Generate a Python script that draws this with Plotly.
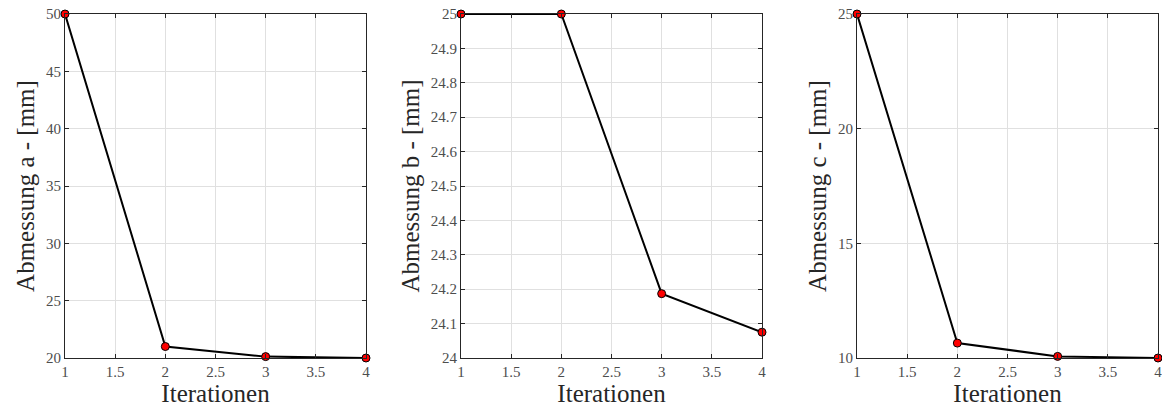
import plotly.graph_objects as go

# Iteration history of the three dimensions
iterations = [1, 2, 3, 4]
abmessung_a = [50.0, 21.0, 20.12, 20.0]
abmessung_b = [25.0, 25.0, 24.187, 24.075]
abmessung_c = [25.0, 10.65, 10.07, 10.0]

y_titles = ["Abmessung a - [mm]", "Abmessung b - [mm]", "Abmessung c - [mm]"]
y_ranges = [(20, 50), (24, 25), (10, 25)]
y_dticks = [5, 0.1, 5]
x_ticks = [1, 1.5, 2, 2.5, 3, 3.5, 4]
x_ticklabels = ["1", "1.5", "2", "2.5", "3", "3.5", "4"]

W, H = 1162, 409
x_domains_px = [(65, 366), (461, 762), (857, 1158)]
y_domain = [1 - 358 / H, 1 - 14 / H]

FONT = "Liberation Serif"

fig = go.Figure()
series = [abmessung_a, abmessung_b, abmessung_c]
for i, values in enumerate(series):
    idx = "" if i == 0 else str(i + 1)
    fig.add_trace(go.Scatter(
        x=iterations, y=values, mode="lines+markers",
        line=dict(color="black", width=2),
        marker=dict(color="#ff0000", size=8, line=dict(color="black", width=1)),
        xaxis="x" + idx, yaxis="y" + idx, showlegend=False, cliponaxis=False,
    ))
    ax_common = dict(
        showline=True, linecolor="#262626", linewidth=1, mirror="allticks",
        ticks="inside", ticklen=4, tickcolor="#262626",
        showgrid=True, gridcolor="#e0e0e0", gridwidth=1, zeroline=False,
        tickfont=dict(family=FONT, size=15, color="#4d4d4d"),
        automargin=False, ticklabeloverflow="allow",
    )
    fig.layout["xaxis" + idx] = dict(
        ax_common,
        domain=[x_domains_px[i][0] / W, x_domains_px[i][1] / W],
        anchor="y" + idx, range=[1, 4],
        tickvals=x_ticks, ticktext=x_ticklabels,
        title=dict(text="Iterationen", font=dict(family=FONT, size=25, color="#262626"), standoff=0),
    )
    fig.layout["yaxis" + idx] = dict(
        ax_common,
        domain=y_domain, anchor="x" + idx, range=list(y_ranges[i]),
        dtick=y_dticks[i], tick0=y_ranges[i][0],
        title=dict(text=y_titles[i], font=dict(family=FONT, size=25, color="#262626"), standoff=4),
    )

fig.update_layout(
    width=W, height=H, margin=dict(l=0, r=0, t=0, b=0),
    paper_bgcolor="white", plot_bgcolor="white",
)
fig.write_html("out.html")
